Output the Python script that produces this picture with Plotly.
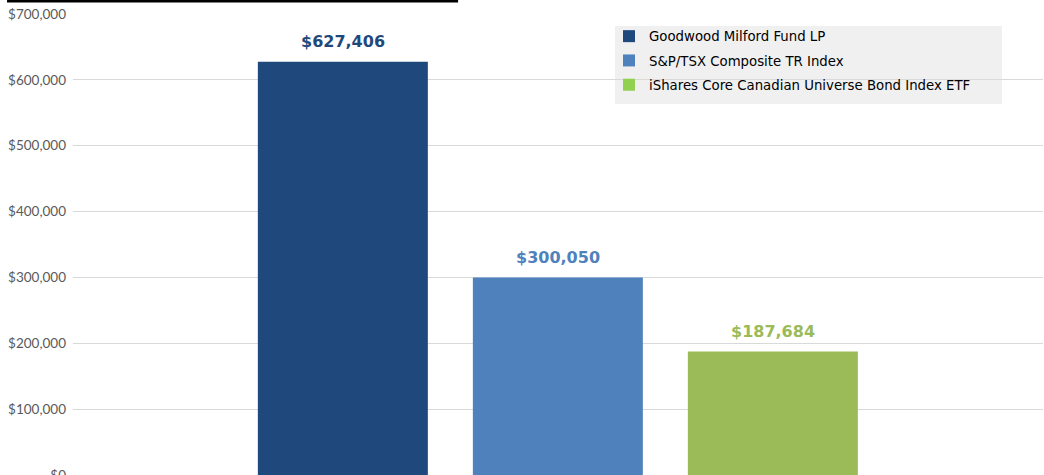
import plotly.graph_objects as go

series = ["Goodwood Milford Fund LP", "S&P/TSX Composite TR Index",
          "iShares Core Canadian Universe Bond Index ETF"]
values = [627406, 300050, 187684]
bar_colors = ["#1F497D", "#4F81BD", "#9BBB59"]
legend_colors = ["#1F497D", "#4F81BD", "#92D050"]
y_ticks = [0, 100000, 200000, 300000, 400000, 500000, 600000, 700000]
y_tick_text = [f"${v:,}" for v in y_ticks]

fig = go.Figure()
for name, val, col in zip(series, values, bar_colors):
    fig.add_trace(go.Bar(x=[name], y=[val], marker=dict(color=col, line=dict(width=0)),
                         showlegend=False, hoverinfo="skip"))
for name, col in zip(series, legend_colors):
    fig.add_trace(go.Bar(x=[None], y=[None], name=name, legendgroup=name,
                         marker=dict(color=col, line=dict(width=0))))

for name, val, col in zip(series, values, bar_colors):
    fig.add_annotation(x=name, y=val, xref="x", yref="y", text=f"<b>${val:,}</b>",
                       showarrow=False, yanchor="middle", yshift=20,
                       font=dict(family="Verdana, DejaVu Sans", size=16, color=col))

# underline of the (cropped) title at the top
fig.add_shape(type="line", xref="paper", yref="paper", x0=-0.068, x1=0.397,
              y0=1.0277, y1=1.0277, line=dict(color="#000000", width=2.5))
# legend background box
fig.add_shape(type="rect", xref="paper", yref="paper", x0=0.5588, x1=0.9577,
              y0=0.8048, y1=0.9740, fillcolor="#F0F0F0", line=dict(width=0),
              layer="below")

fig.update_layout(
    width=1044, height=475,
    margin=dict(l=73, r=1, t=14, b=0, autoexpand=False),
    paper_bgcolor="white", plot_bgcolor="white",
    barmode="overlay", bargap=0.2093,
    showlegend=True,
    legend=dict(x=0.5526, y=0.9848, xanchor="left", yanchor="top",
                bgcolor="rgba(0,0,0,0)", tracegroupgap=4, traceorder="grouped",
                font=dict(family="Verdana, DejaVu Sans", size=13.3, color="#000000")),
    xaxis=dict(range=[-1.2551, 3.2565], showticklabels=False, showgrid=False,
               zeroline=False, showline=False, ticks="", automargin=False),
    yaxis=dict(range=[0, 700000], tickvals=y_ticks, ticktext=y_tick_text,
               showgrid=True, gridcolor="#D9D9D9", gridwidth=1, zeroline=False,
               showline=False, ticks="", ticklabelstandoff=6, ticklabeloverflow="allow",
               automargin=False,
               tickfont=dict(family="Lato", size=13.5, color="#595959")),
)

fig.write_html("out.html")
